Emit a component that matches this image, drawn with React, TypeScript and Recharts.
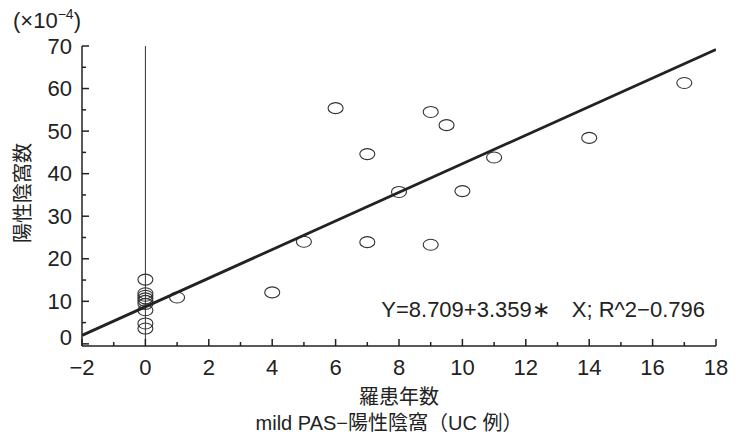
import { ScatterChart, Scatter, XAxis, YAxis, ReferenceLine } from 'recharts';

// 罹患年数 (x) vs 陽性陰窩数 (y, ×10^-4)
const pointX = [0, 0, 0, 0, 0, 0, 0, 0, 0, 1, 4, 5, 6, 7, 7, 8, 9, 9, 9.5, 10, 11, 14, 17];
const pointY = [15.1, 11.9, 11.3, 10.7, 10.1, 9.4, 7.9, 4.8, 3.6, 10.9, 12.1, 24.0, 55.4, 44.6, 23.9, 35.7, 54.5, 23.3, 51.4, 35.9, 43.8, 48.4, 61.3];

// regression line end points
const fitX = [-2, 18];
const fitY = [2.0, 69.2];

const xTicks = [-2, -1, 0, 1, 2, 3, 4, 5, 6, 7, 8, 9, 10, 11, 12, 13, 14, 15, 16, 17, 18];
const yTicks = [0, 5, 10, 15, 20, 25, 30, 35, 40, 45, 50, 55, 60, 65, 70];

const equation = 'Y=8.709+3.359\u2217\u2003X; R^2\u22120.796';

const FONT = "'Liberation Sans', Arial, 'Noto Sans CJK JP', sans-serif";
const INK = '#222';
const Y_MARGIN = 10;
const X_MARGIN = 8;

const points = pointX.map((x, i) => ({ x, y: pointY[i] }));
const fit = fitX.map((x, i) => ({ x, y: fitY[i] }));

const fmt = (v: number) => (v < 0 ? '\u2212' + Math.abs(v) : String(v));

function YTick(props: any) {
  const { x, y, payload } = props;
  const axisX = x + Y_MARGIN;
  const major = payload.value % 10 === 0;
  return (
    <g>
      <line x1={axisX} x2={axisX + (major ? 7 : 4)} y1={y} y2={y} stroke={INK} strokeWidth={1.5} />
      {major && (
        <text x={x} y={payload.value === 0 ? y - 6 : y} textAnchor="end" dominantBaseline="central"
          fontFamily={FONT} fontSize={22} fill={INK}>
          {payload.value}
        </text>
      )}
    </g>
  );
}

function XTick(props: any) {
  const { x, y, payload } = props;
  const axisY = y - X_MARGIN;
  const major = payload.value % 2 === 0;
  return (
    <g>
      <line x1={x} x2={x} y1={axisY} y2={axisY - (major ? 7 : 4)} stroke={INK} strokeWidth={1.5} />
      {major && (
        <text x={x} y={axisY + 21} textAnchor="middle" dominantBaseline="central"
          fontFamily={FONT} fontSize={22} fill={INK}>
          {fmt(payload.value)}
        </text>
      )}
    </g>
  );
}

function Ring(props: any) {
  const { cx, cy } = props;
  return <ellipse cx={cx} cy={cy} rx={7.5} ry={5.5} fill="none" stroke="#333" strokeWidth={1.1} />;
}

export default function App() {
  return (
    <div style={{ position: 'absolute', left: 0, top: 0, width: 740, height: 441, background: '#fff' }}>
      <ScatterChart width={740} height={441} margin={{ top: 46, right: 24, left: 22, bottom: 55 }}>
        <XAxis type="number" dataKey="x" domain={[-2, 18]} ticks={xTicks} interval={0}
          height={40} tickSize={0} tickMargin={X_MARGIN} tick={<XTick />}
          axisLine={{ stroke: INK, strokeWidth: 1.5 }} allowDataOverflow />
        <YAxis type="number" dataKey="y" domain={[-0.5, 70]} ticks={yTicks} interval={0}
          width={60} tickSize={0} tickMargin={Y_MARGIN} tick={<YTick />}
          axisLine={{ stroke: INK, strokeWidth: 1.5 }} allowDataOverflow />
        <ReferenceLine x={0} stroke="#333" strokeWidth={1} />
        <Scatter data={points} shape={<Ring />} isAnimationActive={false} />
        <Scatter data={fit} line={{ stroke: INK, strokeWidth: 2.8 }} shape={() => <g />}
          isAnimationActive={false} />
      </ScatterChart>
      <svg width={740} height={441} style={{ position: 'absolute', left: 0, top: 0, pointerEvents: 'none' }}
        fontFamily={FONT} fill={INK}>
        <text x={13} y={28} fontSize={22}>
          (×10<tspan dy={-9} fontSize={14}>{'\u22124'}</tspan><tspan dy={9} fontSize={22}>)</tspan>
        </text>
        <text x={23} y={193} fontSize={20} textAnchor="middle" dominantBaseline="central"
          transform="rotate(-90 23 193)">
          陽性陰窩数
        </text>
        <text x={705} y={309} fontSize={22} textAnchor="end" dominantBaseline="central">
          {equation}
        </text>
        <text x={399} y={397} fontSize={20} textAnchor="middle" dominantBaseline="central">
          羅患年数
        </text>
        <text x={389} y={423} fontSize={20} textAnchor="middle" dominantBaseline="central">
          mild PAS−陽性陰窩（UC 例）
        </text>
      </svg>
    </div>
  );
}
